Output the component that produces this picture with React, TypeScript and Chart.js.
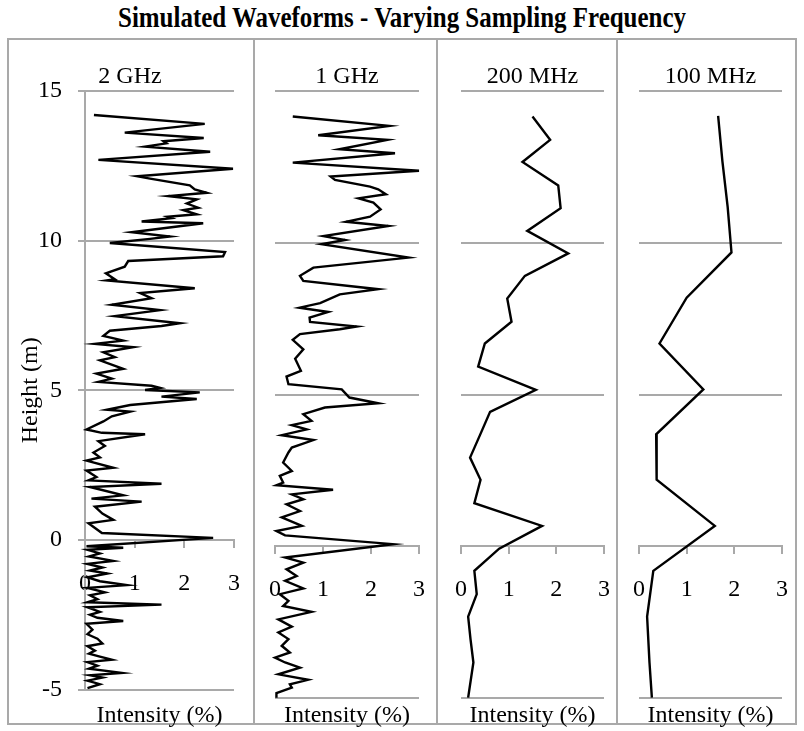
import React, { useEffect, useRef } from "react";
import { Chart, registerables } from "chart.js";

Chart.register(...registerables);

const chartTitle = "Simulated Waveforms - Varying Sampling Frequency";
const panelTitles = ["2 GHz", "1 GHz", "200 MHz", "100 MHz"];
const xAxisTitle = "Intensity (%)";
const yAxisTitle = "Height (m)";
const heightRange = [-5, 15];
const heightStep = 5;
const intensityRange = [0, 3];
const intensityStep = 1;

const height2GHz = [
  14.2, 13.9, 13.61, 13.43, 13.32, 13.25, 13.14, 12.97, 12.7, 12.4, 12.15, 12.07, 11.85, 11.71, 11.6, 11.49,
  11.38, 11.24, 11.1, 11.02, 10.88, 10.8, 10.75, 10.64, 10.58, 10.28, 10.14, 10.06, 9.92, 9.62, 9.48, 9.32,
  9.13, 8.91, 8.71, 8.67, 8.41, 8.25, 8.08, 7.86, 7.68, 7.48, 7.24, 7.15, 6.99, 6.82, 6.66, 6.55,
  6.44, 6.27, 6.11, 6.0, 5.72, 5.56, 5.39, 5.28, 5.15, 5.08, 5.01, 4.93, 4.79, 4.71, 4.51, 4.35,
  4.29, 4.13, 3.96, 3.69, 3.58, 3.53, 3.3, 3.14, 2.92, 2.76, 2.65, 2.41, 2.32, 2.1, 1.99, 1.88,
  1.77, 1.49, 1.38, 1.28, 1.11, 0.88, 0.67, 0.56, 0.23, 0.07, -0.21, -0.26, -0.33, -0.45, -0.55, -0.7,
  -0.8, -0.92, -1.02, -1.12, -1.25, -1.38, -1.51, -1.6, -1.75, -1.85, -1.98, -2.08, -2.16, -2.25, -2.4, -2.5,
  -2.6, -2.71, -2.8, -3.0, -3.15, -3.3, -3.46, -3.55, -3.7, -3.8, -3.9, -4.0, -4.08, -4.2, -4.3, -4.44,
  -4.52, -4.6, -4.7, -4.82, -4.95,
];
const intensity2GHz = [
  0.18, 2.41, 0.8, 2.39, 1.58, 1.64, 1.21, 2.52, 0.27, 2.98, 1.05, 1.31, 2.11, 2.21, 2.45, 1.68,
  2.25, 2.05, 2.28, 1.98, 2.25, 1.66, 1.74, 1.14, 2.38, 0.94, 1.71, 1.31, 0.5, 2.82, 2.78, 0.87,
  0.8, 0.42, 0.6, 0.44, 2.21, 1.11, 1.34, 0.54, 1.51, 0.6, 1.91, 1.54, 0.5, 0.37, 0.77, 0.2,
  0.97, 0.37, 0.6, 0.3, 0.77, 0.23, 0.54, 0.27, 1.34, 1.51, 1.21, 2.31, 1.54, 2.25, 0.91, 0.44,
  0.91, 0.54, 0.37, 0.03, 0.34, 1.21, 0.27, 0.4, 0.17, 0.3, 0.03, 0.57, 0.03, 0.23, 0.07, 1.54,
  0.1, 0.77, 0.13, 1.14, 0.2, 0.35, 0.57, 0.07, 0.34, 2.58, 0.03, 0.77, 0.05, 0.3, 0.08, 0.57,
  0.05, 0.35, 0.1, 0.45, 0.05, 0.3, 0.84, 0.05, 0.4, 0.1, 0.25, 0.05, 1.54, 0.05, 0.3, 0.1,
  0.25, 0.77, 0.03, 0.15, 0.05, 0.25, 0.35, 0.05, 0.2, 0.08, 0.3, 0.54, 0.05, 0.25, 0.08, 0.74,
  0.1, 0.35, 0.05, 0.3, 0.05,
];

const height1GHz = [
  14.16, 13.85, 13.54, 13.39, 13.08, 12.95, 12.64, 12.37, 12.18, 12.07, 11.85, 11.76, 11.6, 11.46, 11.32, 11.1,
  10.86, 10.69, 10.55, 10.22, 10.09, 9.95, 9.51, 9.18, 8.91, 8.74, 8.47, 8.3, 8.01, 7.86, 7.72, 7.53,
  7.39, 7.24, 7.15, 6.99, 6.8, 6.49, 6.18, 5.78, 5.59, 5.34, 5.17, 4.9, 4.71, 4.57, 4.35, 4.13,
  3.99, 3.85, 3.66, 3.5, 3.25, 3.09, 2.76, 2.48, 2.32, 2.1, 2.01, 1.86, 1.71, 1.55, 1.38, 1.16,
  0.95, 0.67, 0.5, 0.36, 0.07, -0.37, -0.54, -0.76, -0.98, -1.14, -1.39, -1.58, -1.8, -1.97, -2.16, -2.41,
  -2.65, -2.84, -3.06, -3.28, -3.5, -3.67, -3.83, -4.0, -4.22, -4.4, -4.55, -4.66, -4.84, -4.99,
];
const intensity1GHz = [
  0.37, 2.38, 0.9, 2.34, 1.34, 2.5, 0.37, 3.0, 1.16, 1.25, 1.98, 2.15, 2.31, 1.74, 2.05, 2.2,
  1.98, 1.48, 2.36, 1.01, 1.46, 0.97, 2.78, 0.8, 0.52, 0.59, 2.15, 1.35, 0.94, 0.51, 1.11, 0.72,
  0.73, 1.7, 1.35, 0.52, 0.37, 0.59, 0.42, 0.54, 0.24, 0.28, 1.39, 1.55, 2.15, 1.04, 0.59, 0.76,
  0.35, 0.66, 0.14, 0.8, 0.35, 0.28, 0.17, 0.35, 0.1, 0.17, 0.03, 1.21, 0.35, 0.59, 0.24, 0.52,
  0.14, 0.56, 0.03, 0.21, 2.46, 0.21, 0.59, 0.24, 0.45, 0.21, 0.59, 0.1, 0.28, 0.17, 0.76, 0.07,
  0.35, 0.07, 0.28, 0.14, 0.31, 0.0, 0.21, 0.52, 0.07, 0.69, 0.31, 0.35, 0.03, 0.03,
];

const height200MHz = [
  14.16, 13.39, 12.66, 11.89, 11.14, 10.39, 9.65, 8.91, 8.16, 7.4, 6.68, 5.92, 5.15, 4.43, 3.67, 2.92,
  2.19, 1.42, 0.67, -0.08, -0.81, -1.58, -2.32, -3.07, -3.83, -4.99,
];
const intensity200MHz = [
  1.5, 1.87, 1.29, 2.04, 2.09, 1.39, 2.25, 1.34, 0.97, 1.06, 0.5, 0.36, 1.57, 0.61, 0.4, 0.19,
  0.41, 0.28, 1.7, 0.8, 0.28, 0.33, 0.15, 0.2, 0.26, 0.15,
];

const height100MHz = [14.18, 12.68, 11.18, 9.68, 8.19, 6.68, 5.17, 3.69, 2.19, 0.67, -0.81, -2.32, -3.83, -4.99];
const intensity100MHz = [1.66, 1.75, 1.86, 1.94, 1.0, 0.43, 1.35, 0.36, 0.37, 1.59, 0.3, 0.17, 0.22, 0.27];

const FONT = "'Liberation Serif', 'Times New Roman', serif";
const GRID = "#a9a9a9";

type PanelProps = {
  heights: number[];
  intensities: number[];
  left: number;
  width: number;
  padLeft: number;
  padRight: number;
  yAxis: boolean;
};

function Panel({ heights, intensities, left, width, padLeft, padRight, yAxis }: PanelProps) {
  const ref = useRef<HTMLCanvasElement>(null);
  useEffect(() => {
    const pts = heights.map((h, i) => ({ x: intensities[i], y: h }));
    const chart = new Chart(ref.current as HTMLCanvasElement, {
      type: "scatter",
      data: {
        datasets: [
          {
            data: pts,
            showLine: true,
            borderColor: "#000",
            borderWidth: 2.4,
            pointRadius: 0,
            tension: 0,
            clip: false,
          } as any,
        ],
      },
      options: {
        animation: false,
        responsive: false,
        events: [],
        layout: { padding: { left: padLeft, right: padRight, top: 51, bottom: 22 } },
        plugins: { legend: { display: false }, tooltip: { enabled: false }, title: { display: false } },
        scales: {
          x: {
            type: "linear",
            position: { y: 0 } as any,
            min: intensityRange[0],
            max: intensityRange[1],
            ticks: { stepSize: intensityStep, padding: 22, color: "#000", font: { family: FONT, size: 24 }, maxRotation: 0, autoSkip: false },
            grid: { drawOnChartArea: false, drawTicks: true, tickLength: 7, color: GRID, lineWidth: 2 },
            border: { display: true, color: GRID, width: 2 },
            afterFit: (s: any) => {
              s.paddingLeft = 0;
              s.paddingRight = 0;
            },
          },
          y: {
            type: "linear",
            min: heightRange[0],
            max: heightRange[1],
            ticks: { stepSize: heightStep, display: yAxis, padding: 16, color: "#000", font: { family: FONT, size: 24 } },
            grid: { color: GRID, lineWidth: 2, drawTicks: yAxis, tickLength: 7 },
            border: { display: yAxis, color: GRID, width: 2 },
            title: {
              display: yAxis,
              text: yAxisTitle,
              color: "#000",
              font: { family: FONT, size: 24 },
              padding: { top: 1, bottom: 0 },
            },
            afterFit: (s: any) => {
              s.width = yAxis ? 70 : 0;
            },
          },
        },
      },
    });
    return () => chart.destroy();
  }, []);
  return (
    <canvas
      ref={ref}
      width={width}
      height={680}
      style={{ position: "absolute", left, top: 40, width, height: 680 }}
    />
  );
}

const textBase: React.CSSProperties = {
  position: "absolute",
  fontFamily: FONT,
  color: "#000",
  whiteSpace: "nowrap",
  textAlign: "center",
};

export default function App() {
  const panels = [
    { heights: height2GHz, intensities: intensity2GHz, left: 10, width: 242, padLeft: 5, padRight: 18, yAxis: true, titleX: 130, axisX: 159.5 },
    { heights: height1GHz, intensities: intensity1GHz, left: 256, width: 179, padLeft: 19, padRight: 16, yAxis: false, titleX: 347, axisX: 347 },
    { heights: height200MHz, intensities: intensity200MHz, left: 439, width: 176, padLeft: 22, padRight: 11, yAxis: false, titleX: 532.5, axisX: 532.5 },
    { heights: height100MHz, intensities: intensity100MHz, left: 619, width: 176, padLeft: 20, padRight: 13, yAxis: false, titleX: 710.5, axisX: 710.5 },
  ];
  return (
    <div style={{ position: "absolute", left: 0, top: 0, width: 804, height: 731, background: "#fff", overflow: "hidden" }}>
      <div
        style={{
          ...textBase,
          left: 0,
          top: 3,
          width: 804,
          fontSize: 29,
          lineHeight: "29px",
          fontWeight: "bold",
          transform: "scaleX(0.86)",
        }}
      >
        {chartTitle}
      </div>
      <div
        style={{
          position: "absolute",
          left: 7,
          top: 38,
          width: 790,
          height: 687,
          boxSizing: "border-box",
          border: `2px solid ${GRID}`,
        }}
      />
      {[253, 436, 616].map((x) => (
        <div key={x} style={{ position: "absolute", left: x, top: 38, width: 2, height: 687, background: GRID }} />
      ))}
      {panels.map((p, i) => (
        <Panel key={i} heights={p.heights} intensities={p.intensities} left={p.left} width={p.width} padLeft={p.padLeft} padRight={p.padRight} yAxis={p.yAxis} />
      ))}
      {panels.map((p, i) => (
        <div key={"t" + i} style={{ ...textBase, left: p.titleX - 100, width: 200, top: 63, fontSize: 24, lineHeight: "24px" }}>
          {panelTitles[i]}
        </div>
      ))}
      {panels.map((p, i) => (
        <div key={"a" + i} style={{ ...textBase, left: p.axisX - 100, width: 200, top: 702, fontSize: 24, lineHeight: "24px" }}>
          {xAxisTitle}
        </div>
      ))}
    </div>
  );
}
